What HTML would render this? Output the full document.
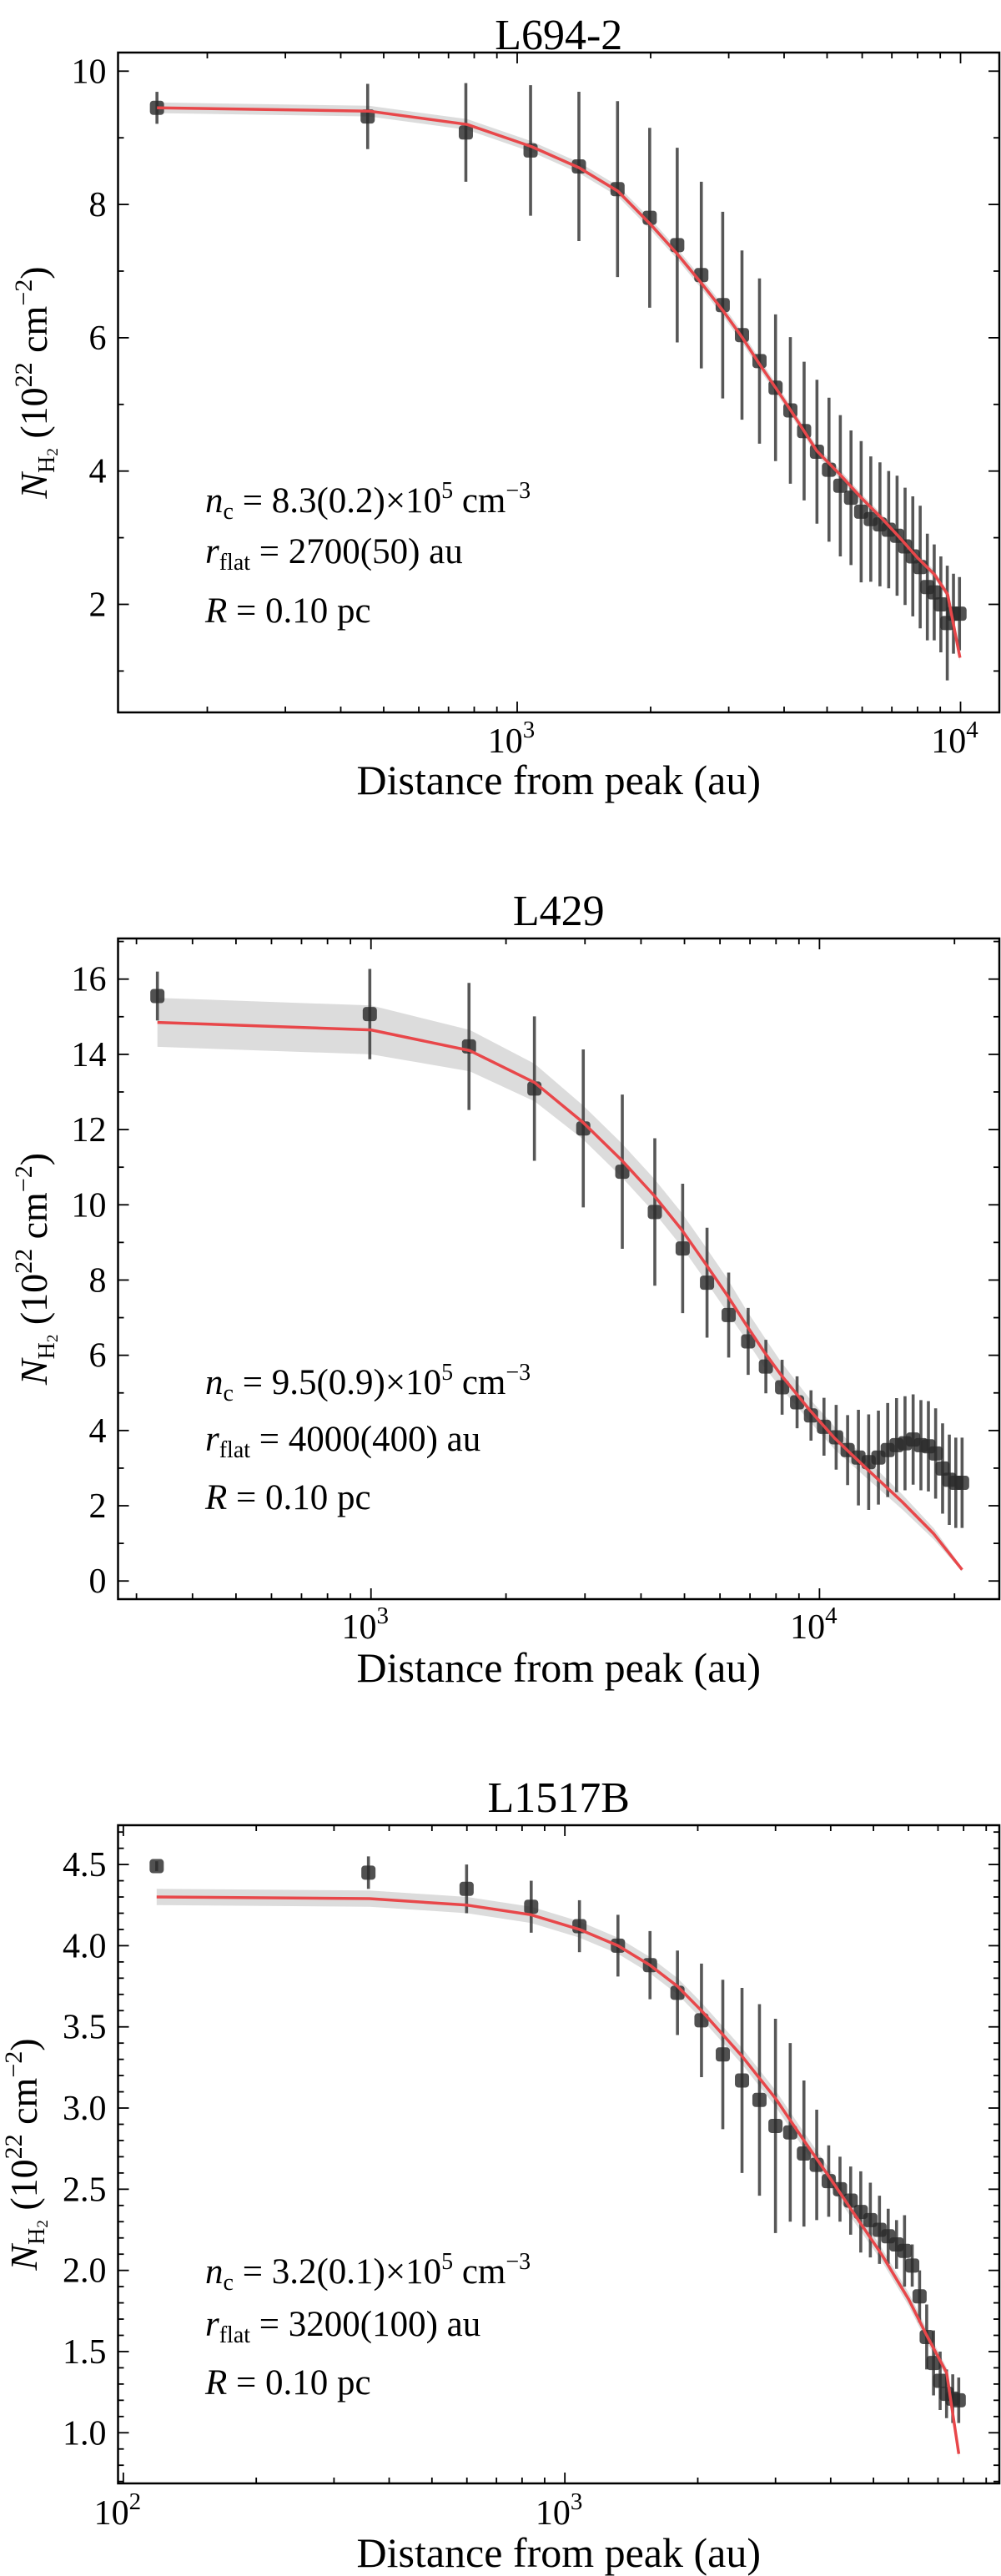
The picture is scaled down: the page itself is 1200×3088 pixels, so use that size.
<!DOCTYPE html>
<html><head><meta charset="utf-8"><style>
html,body{margin:0;padding:0;background:#fff}
svg{display:block}
text{font-family:"Liberation Serif","DejaVu Serif",serif;fill:#000}
</style></head><body>
<svg id="fig" width="1200" height="3088" viewBox="0 0 1200 3088" xmlns="http://www.w3.org/2000/svg"></svg>
<script>
// ---- Panel 1: L694-2 ----
const p1Dist = [154,460,766,1072,1378,1684,1990,2296,2602,2908,3214,3520,3826,4132,4438,4744,5050,5356,5662,5968,6274,6580,6886,7192,7498,7804,8110,8416,8722,9028,9334,9640,9946];
const p1N = [9.45,9.32,9.08,8.81,8.57,8.23,7.80,7.39,6.94,6.49,6.04,5.65,5.25,4.91,4.60,4.29,4.02,3.78,3.60,3.39,3.28,3.20,3.12,3.03,2.87,2.72,2.56,2.26,2.18,2.00,1.72,1.86,1.86];
const p1Err = [0.24,0.49,0.74,0.98,1.12,1.32,1.35,1.46,1.40,1.40,1.27,1.24,1.10,1.10,1.04,1.08,1.08,1.06,1.01,1.06,0.94,0.93,0.88,0.90,0.88,0.90,0.92,0.80,0.72,0.72,0.86,0.60,0.55];
const p1ModelDist = [154,463,771,1076,1380,1687,2000,2301,2618,2917,3221,3524,3828,4150,4436,4742,5346,5970,6622,7295,7998,8730,9350,9970];
const p1Model = [9.45,9.40,9.20,8.87,8.55,8.20,7.70,7.25,6.80,6.40,6.00,5.60,5.25,4.90,4.60,4.30,3.95,3.60,3.30,3.00,2.70,2.45,2.15,1.20];
const p1Band = [0.08,0.08,0.08,0.08,0.08,0.08,0.08,0.08,0.08,0.08,0.08,0.08,0.07,0.07,0.07,0.07,0.07,0.06,0.06,0.06,0.06,0.06,0.05,0.05];
const p1YTicks = [2,4,6,8,10];
const p1XTicks = [3,4];

// ---- Panel 2: L429 ----
const p2Dist = [334,994,1654,2314,2974,3634,4294,4954,5614,6274,6934,7594,8254,8914,9574,10234,10894,11554,12214,12874,13534,14194,14854,15514,16174,16834,17494,18154,18814,19474,20134,20794];
const p2N = [15.55,15.07,14.21,13.09,12.03,10.88,9.81,8.84,7.93,7.07,6.37,5.70,5.15,4.75,4.40,4.10,3.82,3.48,3.28,3.16,3.28,3.48,3.61,3.66,3.76,3.61,3.58,3.39,2.99,2.69,2.61,2.61];
const p2Err = [0.65,1.2,1.69,1.92,2.1,2.05,1.96,1.72,1.46,1.13,0.89,0.71,0.73,0.69,0.67,0.77,0.86,0.93,1.27,1.27,1.25,1.25,1.25,1.25,1.2,1.2,1.2,1.2,1.2,1.2,1.2,1.2];
const p2ModelDist = [334,1000,1660,2317,2965,3614,4276,4920,5559,6223,6871,7520,8180,9500,10800,12700,15300,18000,20800];
const p2Model = [14.85,14.65,14.10,13.25,12.20,11.20,10.25,9.35,8.45,7.60,6.80,6.10,5.50,4.55,3.80,3.00,2.10,1.25,0.30];
const p2Band = [0.65,0.65,0.55,0.5,0.45,0.45,0.45,0.45,0.45,0.45,0.4,0.4,0.35,0.3,0.3,0.25,0.2,0.15,0.05];
const p2YTicks = [0,2,4,6,8,10,12,14,16];
const p2XTicks = [3,4];

// ---- Panel 3: L1517B ----
const p3Dist = [119,359,599,839,1079,1319,1559,1799,2039,2279,2519,2759,2999,3239,3479,3719,3959,4199,4439,4679,4919,5159,5399,5639,5879,6119,6359,6599,6839,7079,7319,7559,7799];
const p3N = [4.49,4.45,4.35,4.24,4.12,4.00,3.88,3.71,3.54,3.33,3.17,3.05,2.89,2.85,2.72,2.65,2.55,2.50,2.43,2.36,2.31,2.25,2.21,2.16,2.12,2.03,1.84,1.59,1.43,1.32,1.24,1.21,1.20];
const p3Err = [0.03,0.1,0.15,0.16,0.16,0.19,0.21,0.26,0.35,0.46,0.57,0.59,0.66,0.55,0.45,0.34,0.22,0.2,0.21,0.25,0.23,0.21,0.17,0.15,0.22,0.13,0.16,0.2,0.2,0.18,0.15,0.15,0.14];
const p3ModelDist = [119,361,601,839,1079,1319,1559,1799,2039,2519,2999,3479,3959,4439,5212,6012,6599,7320,7800];
const p3Model = [4.30,4.29,4.25,4.19,4.10,4.00,3.88,3.75,3.60,3.32,3.06,2.80,2.58,2.38,2.10,1.82,1.60,1.37,0.87];
const p3Band = [0.05,0.05,0.05,0.05,0.05,0.05,0.05,0.05,0.05,0.05,0.05,0.05,0.05,0.05,0.04,0.04,0.04,0.03,0.03];
const p3YTicks = [1.0,1.5,2.0,2.5,3.0,3.5,4.0,4.5];
const p3XTicks = [2,3];

const NS = "http://www.w3.org/2000/svg";
const svg = document.getElementById('fig');
function mk(tag, attrs, parent){
  const e = document.createElementNS(NS, tag);
  for (const k in attrs) e.setAttribute(k, attrs[k]);
  (parent||svg).appendChild(e);
  return e;
}
function tsp(parent, txt, extra){
  const t = document.createElementNS(NS,'tspan');
  if (extra) for (const k in extra) t.setAttribute(k, extra[k]);
  t.textContent = txt; parent.appendChild(t); return t;
}

const panels = [
 {key:'l694-2', title:'L694-2', L:141.5, R:1198, T:63, B:854, xmin:2.0997, xmax:4.0875, ymin:0.379, ymax:10.279,
  dist:p1Dist, n:p1N, err:p1Err, md:p1ModelDist, m:p1Model, band:p1Band, yt:p1YTicks, ydec:0, ymin_step:1, xt:p1XTicks,
  titleY:42, ylabX:40, ann:['8.3(0.2)','2700(50)'], annY:[614,675,746], xlabY:952, tickLabY:902},
 {key:'l429', title:'L429', L:141.5, R:1198, T:1125, B:1917, xmin:2.436, xmax:4.401, ymin:-0.483, ymax:17.08,
  dist:p2Dist, n:p2N, err:p2Err, md:p2ModelDist, m:p2Model, band:p2Band, yt:p2YTicks, ydec:0, ymin_step:1, xt:p2XTicks,
  titleY:1092, ylabX:40, ann:['9.5(0.9)','4000(400)'], annY:[671,739,809].map(v=>v+1000), xlabY:2016, tickLabY:1964},
 {key:'l1517b', title:'L1517B', L:141.5, R:1198, T:2188, B:2977, xmin:1.988, xmax:3.984, ymin:0.688, ymax:4.742,
  dist:p3Dist, n:p3N, err:p3Err, md:p3ModelDist, m:p3Model, band:p3Band, yt:p3YTicks, ydec:1, ymin_step:0.1, xt:p3XTicks,
  titleY:2155, ylabX:28, ann:['3.2(0.1)','3200(100)'], annY:[687,750,820].map(v=>v+2050), xlabY:3077, tickLabY:3026}
];

panels.forEach(p=>{
  const g = mk('g', {});
  
  
  const xs = d => p.L + (Math.log10(d) - p.xmin) / (p.xmax - p.xmin) * (p.R - p.L);
  const xl = l => p.L + (l - p.xmin) / (p.xmax - p.xmin) * (p.R - p.L);
  const ys = v => p.B - (v - p.ymin) / (p.ymax - p.ymin) * (p.B - p.T);
  const clip = 'clip-' + p.key;
  const cp = mk('clipPath', {id:clip}, g);
  mk('rect', {x:p.L, y:p.T, width:p.R-p.L, height:p.B-p.T}, cp);
  const plot = mk('g', {'clip-path':'url(#'+clip+')'}, g);

  let up = p.md.map((d,i)=> xs(d).toFixed(1)+','+ys(p.m[i]+p.band[i]).toFixed(1));
  let dn = p.md.map((d,i)=> xs(d).toFixed(1)+','+ys(p.m[i]-p.band[i]).toFixed(1)).reverse();
  const band = mk('polygon', {points: up.concat(dn).join(' '), fill:'#d8d8d8', 'fill-opacity':'0.9'}, plot);
  
  

  p.dist.forEach((d,i)=>{
    const x = xs(d);
    const eb = mk('line', {x1:x, x2:x, y1:ys(p.n[i]+p.err[i]), y2:ys(p.n[i]-p.err[i]), stroke:'#3a3a3a', 'stroke-width':3.6, 'stroke-opacity':0.85}, plot);
    
    
  });
  p.dist.forEach((d,i)=>{
    const x = xs(d), y = ys(p.n[i]);
    const pt = mk('rect', {x:x-8.5, y:y-8.5, width:17, height:17, rx:4, fill:'#2b2b2b', 'fill-opacity':0.82}, plot);
    
    
  });
  const line = mk('polyline', {points: p.md.map((d,i)=> xs(d).toFixed(1)+','+ys(p.m[i]).toFixed(1)).join(' '), fill:'none', stroke:'#e8474a', 'stroke-width':3.5, 'stroke-linejoin':'round'}, plot);
  
  

  const fr = mk('rect', {x:p.L, y:p.T, width:p.R-p.L, height:p.B-p.T, fill:'none', stroke:'#000', 'stroke-width':2.5}, g);
  
  

  const tg = mk('g', {stroke:'#000', 'stroke-width':1.8}, g);
  for (let dec = Math.floor(p.xmin); dec <= Math.ceil(p.xmax); dec++){
    for (let k=1;k<10;k++){
      const l = dec + Math.log10(k);
      if (l < p.xmin || l > p.xmax) continue;
      const x = xl(l), len = k===1?13:7;
      mk('line', {x1:x,x2:x,y1:p.B,y2:p.B-len}, tg);
      mk('line', {x1:x,x2:x,y1:p.T,y2:p.T+len}, tg);
    }
  }
  p.xt.forEach(e=>{
    const t = mk('text', {x:xl(e)-7, y:p.tickLabY, 'font-size':42, 'text-anchor':'middle'}, g);
    
    
    tsp(t, '10');
    tsp(t, String(e), {'font-size':29, dy:-18});
  });
  const st = p.ymin_step;
  for (let v = Math.ceil(p.ymin/st)*st; v <= p.ymax+1e-9; v += st){
    const vv = Math.round(v*1000)/1000;
    const major = p.yt.some(t=>Math.abs(t-vv)<1e-6);
    const y = ys(vv), len = major?13:7;
    mk('line', {x1:p.L,x2:p.L+len,y1:y,y2:y}, tg);
    mk('line', {x1:p.R,x2:p.R-len,y1:y,y2:y}, tg);
  }
  p.yt.forEach(v=>{
    const t = mk('text', {x:p.L-14, y:ys(v)+14, 'font-size':42, 'text-anchor':'end'}, g);
    
    
    t.textContent = v.toFixed(p.ydec);
  });

  const ti = mk('text', {x:(p.L+p.R)/2, y:p.titleY+17, 'font-size':52, 'text-anchor':'middle'}, g);
  
  
  ti.textContent = p.title;

  const xlab = mk('text', {x:(p.L+p.R)/2, y:p.xlabY, 'font-size':50, 'text-anchor':'middle'}, g);
  
  
  xlab.textContent = 'Distance from peak (au)';

  const cy = (p.T+p.B)/2;
  const ylab = mk('text', {x:0, y:0, 'font-size':46, 'text-anchor':'middle', transform:'translate('+(p.ylabX+16)+','+cy+') rotate(-90)'}, g);
  
  
  tsp(ylab, 'N', {'font-style':'italic'});
  tsp(ylab, 'H', {'font-size':28, dy:9});
  tsp(ylab, '2', {'font-size':19, dy:4});
  tsp(ylab, '  (10', {dy:-13});
  tsp(ylab, '22', {'font-size':30, dy:-18});
  tsp(ylab, ' cm', {dy:18});
  tsp(ylab, '−2', {'font-size':30, dy:-18});
  tsp(ylab, ')', {dy:18});

  const a1 = mk('text', {x:246, y:p.annY[0], 'font-size':43}, g);
  
  
  tsp(a1, 'n', {'font-style':'italic'});
  tsp(a1, 'c', {'font-size':28, dy:8});
  tsp(a1, '  =  ' + p.ann[0] + '×10', {dy:-8});
  tsp(a1, '5', {'font-size':28, dy:-17});
  tsp(a1, ' cm', {dy:17});
  tsp(a1, '−3', {'font-size':28, dy:-17});
  const a2 = mk('text', {x:246, y:p.annY[1], 'font-size':43}, g);
  
  
  tsp(a2, 'r', {'font-style':'italic'});
  tsp(a2, 'flat', {'font-size':28, dy:8});
  tsp(a2, ' = ' + p.ann[1] + ' au', {dy:-8});
  const a3 = mk('text', {x:246, y:p.annY[2], 'font-size':43}, g);
  
  
  tsp(a3, 'R', {'font-style':'italic'});
  tsp(a3, ' = 0.10 pc');
});
</script>
</body></html>
